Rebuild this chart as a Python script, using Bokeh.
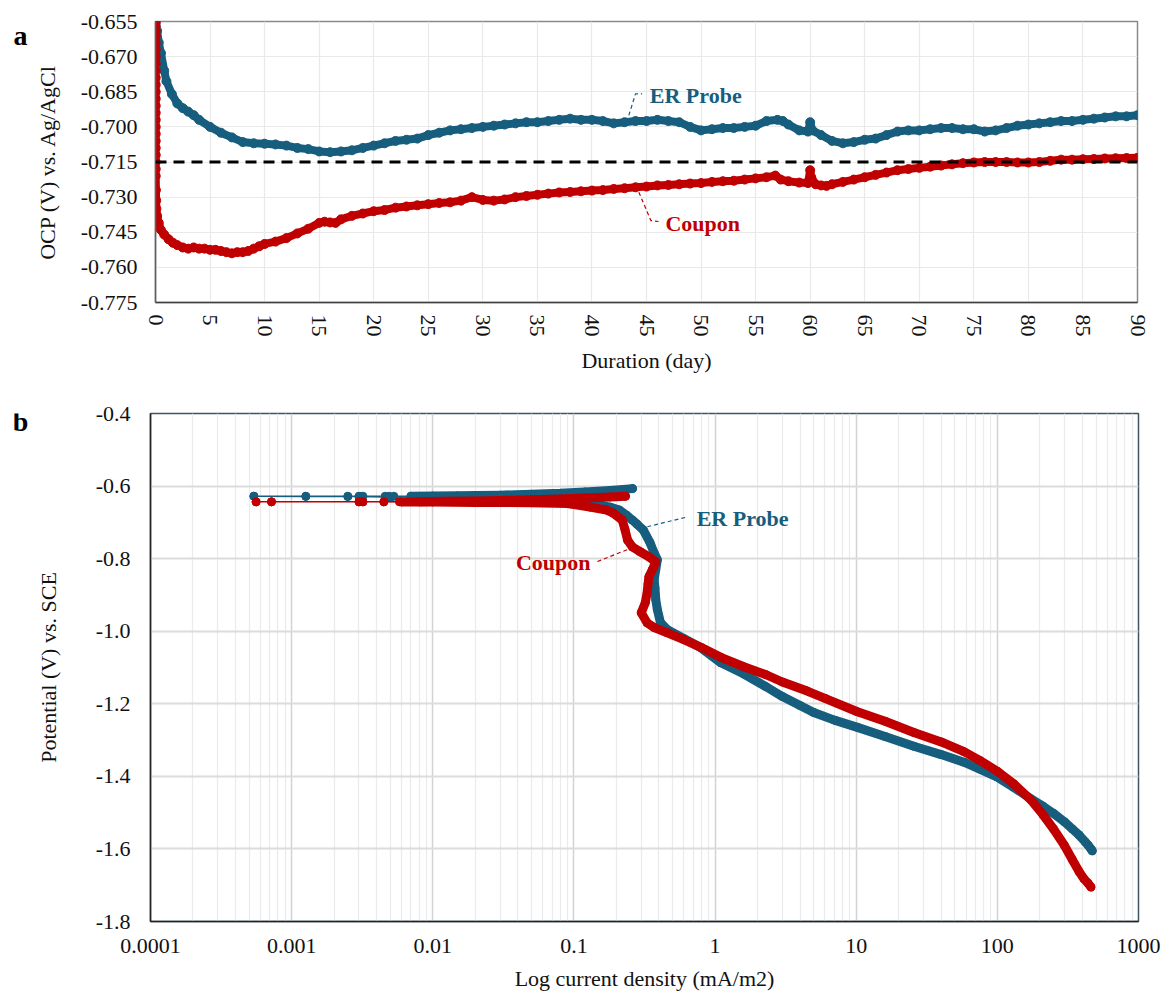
from bokeh.plotting import figure
from bokeh.models import Range1d, FixedTicker, NumeralTickFormatter, Span, Label
from bokeh.layouts import column, row
from bokeh.embed import file_html
from bokeh.resources import INLINE
from bokeh.core.properties import value

BLUE = "#165d7e"
RED = "#c00000"
FONT = "Liberation Serif"

# ---------------- panel a : OCP vs duration ----------------
er_day = [0.02, 0.15, 0.3, 0.5, 0.8, 1.0, 1.5, 2.0, 2.5, 3.0, 3.5, 4.0, 5.0, 6.0, 7.0, 8.0, 9.0, 10.0,
          11, 12, 13, 14, 15, 16, 17, 18, 19, 20, 21, 22, 23, 24, 25, 26, 27, 28, 29, 30, 31, 32, 33,
          34, 35, 36, 37, 38, 39, 40, 41, 42, 43, 44, 45, 46, 47, 48, 49, 50, 51, 52, 53, 54, 55, 56,
          57, 57.5, 58, 59, 59.8, 60.0, 60.2, 61, 62, 63, 64, 65, 66, 67, 68, 69, 70, 71, 72, 73, 74,
          75, 76, 77, 78, 79, 80, 81, 82, 83, 84, 85, 86, 87, 88, 89, 90]
er_ocp = [-0.6555, -0.659, -0.664, -0.6685, -0.676, -0.6805, -0.686, -0.690, -0.692, -0.6935, -0.695,
          -0.697, -0.700, -0.7025, -0.7045, -0.7065, -0.707, -0.7072, -0.7075, -0.708, -0.709, -0.7095,
          -0.7105, -0.7108, -0.7105, -0.710, -0.709, -0.708, -0.707, -0.706, -0.7055, -0.705, -0.7035,
          -0.7025, -0.7015, -0.701, -0.7005, -0.700, -0.6995, -0.699, -0.6985, -0.698, -0.698, -0.6975,
          -0.697, -0.6965, -0.697, -0.697, -0.6975, -0.6985, -0.698, -0.6975, -0.6975, -0.697, -0.6975,
          -0.698, -0.700, -0.7015, -0.701, -0.7005, -0.7005, -0.700, -0.6995, -0.6975, -0.697, -0.6975,
          -0.699, -0.7015, -0.702, -0.698, -0.7015, -0.7035, -0.706, -0.707, -0.7065, -0.7055, -0.705,
          -0.7035, -0.702, -0.7015, -0.7015, -0.701, -0.7005, -0.7005, -0.701, -0.701, -0.702, -0.7015,
          -0.7005, -0.6995, -0.699, -0.6985, -0.698, -0.6975, -0.6975, -0.697, -0.6965, -0.696, -0.6955,
          -0.6955, -0.695]

cp_day = [0.02, 0.02, 0.02, 0.02, 0.02, 0.02, 0.02, 0.02, 0.02, 0.02, 0.02, 0.02, 0.02, 0.02, 0.02,
          0.02, 0.02, 0.02, 0.02, 0.02, 0.02, 0.02, 0.02, 0.02, 0.04, 0.06, 0.08,
          0.15, 0.3, 0.5, 0.8, 1.2, 1.6, 2.0, 2.5, 3.0, 3.5, 4.0, 4.5, 5.0, 5.5, 6.0, 6.5, 7.0, 7.5,
          8.0, 8.5, 9.0, 9.5, 10, 11, 12, 13, 14, 15, 15.5, 16, 16.5, 17, 18, 19, 20, 21, 22, 23, 24,
          25, 26, 27, 28, 29, 30, 31, 32, 33, 34, 35, 36, 37, 38, 39, 40, 41, 42, 43, 44, 45, 46, 47,
          48, 49, 50, 51, 52, 53, 54, 55, 56, 56.8, 57.3, 58, 59, 59.8, 60.0, 60.1, 60.5, 61, 61.5, 62,
          63, 64, 65, 66, 67, 68, 69, 70, 71, 72, 73, 74, 75, 76, 77, 78, 79, 80, 81, 82, 83, 84, 85,
          86, 87, 88, 89, 90]
cp_ocp = [-0.655, -0.657, -0.659, -0.661, -0.664, -0.667, -0.670, -0.673, -0.676, -0.679, -0.682,
          -0.685, -0.688, -0.691, -0.694, -0.697, -0.700, -0.703, -0.706, -0.709, -0.712, -0.715,
          -0.718, -0.721, -0.727, -0.7314, -0.735,
          -0.738, -0.741, -0.744, -0.746, -0.748, -0.7495, -0.7505, -0.7515, -0.752, -0.7515, -0.752,
          -0.752, -0.7525, -0.7525, -0.753, -0.7535, -0.754, -0.7535, -0.7535, -0.753, -0.752, -0.751,
          -0.750, -0.749, -0.7475, -0.7455, -0.7435, -0.741, -0.7405, -0.7408, -0.741, -0.7395, -0.738,
          -0.737, -0.736, -0.7355, -0.7345, -0.734, -0.7335, -0.733, -0.7325, -0.7322, -0.7315, -0.730,
          -0.7312, -0.7315, -0.731, -0.730, -0.7295, -0.729, -0.7285, -0.728, -0.7278, -0.7275, -0.7272,
          -0.727, -0.7265, -0.7262, -0.7258, -0.7255, -0.725, -0.7248, -0.7245, -0.7242, -0.724,
          -0.7235, -0.7232, -0.723, -0.7225, -0.722, -0.7215, -0.7208, -0.7225, -0.7232, -0.7238,
          -0.724, -0.7185, -0.7215, -0.7245, -0.725, -0.7252, -0.7245, -0.7235, -0.7225, -0.7215,
          -0.7205, -0.7195, -0.7185, -0.718, -0.7175, -0.717, -0.7165, -0.716, -0.7155, -0.7152,
          -0.715, -0.715, -0.715, -0.7152, -0.7152, -0.715, -0.7145, -0.714, -0.714, -0.7138, -0.7137,
          -0.7135, -0.7134, -0.7133, -0.7132]

ref_ocp = -0.715
a_xticks = [0, 5, 10, 15, 20, 25, 30, 35, 40, 45, 50, 55, 60, 65, 70, 75, 80, 85, 90]
a_yticks = [-0.775, -0.760, -0.745, -0.730, -0.715, -0.700, -0.685, -0.670, -0.655]

# annotation anchors (data coordinates)
a_er_leader_x = [43.38, 43.99, 44.6]
a_er_leader_y = [-0.6951, -0.6859, -0.6859]
a_er_text = (45.3, -0.6866)
a_cp_leader_x = [44.3, 45.4, 46.1]
a_cp_leader_y = [-0.7279, -0.7400, -0.7404]
a_cp_text = (46.74, -0.7411)

# ---------------- panel b : polarisation curves ----------------
er_cat_i = [470, 460, 440, 418, 380, 340, 298, 250, 210, 173, 130, 100, 75, 58, 40, 25.6, 16, 10.2,
            7, 5, 4, 3, 2.3, 1.6, 1.1, 0.79, 0.6, 0.46, 0.41, 0.39, 0.38, 0.375, 0.37, 0.38, 0.39,
            0.37, 0.345, 0.31, 0.28, 0.26, 0.235, 0.21, 0.18, 0.155, 0.12, 0.09, 0.06, 0.04, 0.03,
            0.02, 0.015, 0.01, 0.007, 0.005, 0.0046, 0.003, 0.0025, 0.00126, 0.00054]
er_cat_v = [-1.605, -1.600, -1.590, -1.580, -1.562, -1.545, -1.525, -1.502, -1.482, -1.462, -1.430,
            -1.402, -1.380, -1.361, -1.340, -1.317, -1.290, -1.265, -1.245, -1.224, -1.205, -1.180,
            -1.153, -1.118, -1.087, -1.045, -1.020, -0.996, -0.976, -0.940, -0.913, -0.880, -0.858,
            -0.830, -0.803, -0.784, -0.755, -0.721, -0.705, -0.694, -0.680, -0.666, -0.658, -0.6525,
            -0.648, -0.645, -0.642, -0.639, -0.638, -0.636, -0.635, -0.634, -0.633, -0.632, -0.630,
            -0.629, -0.629, -0.6285, -0.628]
er_ano_i = [0.00054, 0.00126, 0.0025, 0.003, 0.0032, 0.0046, 0.0049, 0.0053, 0.007, 0.01, 0.015,
            0.02, 0.03, 0.05, 0.08, 0.12, 0.18, 0.26]
er_ano_v = [-0.628, -0.628, -0.628, -0.628, -0.628, -0.628, -0.628, -0.628, -0.628, -0.6275, -0.627,
            -0.626, -0.625, -0.6225, -0.620, -0.616, -0.612, -0.607]

cp_cat_i = [460, 440, 410, 380, 340, 298, 250, 210, 173, 130, 100, 75, 58, 40, 25.6, 16, 10.2, 6,
            4.5, 3, 2.3, 1.6, 1.1, 0.8, 0.6, 0.45, 0.37, 0.33, 0.30, 0.32, 0.33, 0.335, 0.34, 0.36,
            0.38, 0.34, 0.295, 0.26, 0.24, 0.23, 0.22, 0.19, 0.17, 0.13, 0.09, 0.05, 0.02, 0.01,
            0.006, 0.0045, 0.0032, 0.003, 0.00072, 0.00056]
cp_cat_v = [-1.705, -1.695, -1.682, -1.663, -1.630, -1.590, -1.545, -1.505, -1.465, -1.420, -1.386,
            -1.356, -1.332, -1.305, -1.279, -1.248, -1.222, -1.185, -1.165, -1.140, -1.120, -1.098,
            -1.072, -1.045, -1.023, -1.003, -0.990, -0.977, -0.949, -0.922, -0.894, -0.870, -0.850,
            -0.830, -0.809, -0.795, -0.781, -0.768, -0.749, -0.720, -0.694, -0.675, -0.666, -0.658,
            -0.648, -0.646, -0.645, -0.644, -0.6437, -0.6435, -0.6435, -0.6435, -0.6435, -0.6435]
cp_ano_i = [0.00056, 0.00072, 0.003, 0.0032, 0.0045, 0.0058, 0.008, 0.012, 0.02, 0.03, 0.05, 0.08,
            0.12, 0.18, 0.232]
cp_ano_v = [-0.6435, -0.6435, -0.6435, -0.6435, -0.6435, -0.6435, -0.643, -0.642, -0.641, -0.640,
            -0.6375, -0.6355, -0.633, -0.630, -0.628]

b_xticks = [0.0001, 0.001, 0.01, 0.1, 1, 10, 100, 1000]
b_xlabels = ["0.0001", "0.001", "0.01", "0.1", "1", "10", "100", "1000"]
b_yticks = [-1.8, -1.6, -1.4, -1.2, -1.0, -0.8, -0.6, -0.4]
b_minor = [m * d for d in b_xticks[:-1] for m in (2, 3, 4, 5, 6, 7, 8, 9)]

b_er_leader_x = [0.331, 0.637]
b_er_leader_y = [-0.712, -0.685]
b_er_text = (0.741, -0.689)
b_cp_leader_x = [0.1466, 0.2524]
b_cp_leader_y = [-0.808, -0.7715]
b_cp_text = (0.131, -0.810)

panel_letters = ["a", "b"]

LEFT_STRIP = 30
TOP_H = 390
BOT_H = 603


def style_axis(ax, label, label_standoff, tick_standoff, line_color):
    ax.axis_label = label
    ax.axis_label_text_font = FONT
    ax.axis_label_text_font_size = "22px"
    ax.axis_label_text_font_style = "normal"
    ax.axis_label_text_color = "#111111"
    ax.axis_label_standoff = label_standoff
    ax.major_label_text_font = FONT
    ax.major_label_text_font_size = "22px"
    ax.major_label_text_color = "#111111"
    ax.major_label_standoff = tick_standoff
    ax.major_tick_out = 0
    ax.major_tick_in = 0
    ax.minor_tick_out = 0
    ax.minor_tick_in = 0
    ax.axis_line_color = line_color
    ax.axis_line_width = 1.5


def letter_strip(letter, height, baseline_from_top):
    s = figure(width=LEFT_STRIP, height=height, x_range=Range1d(0, LEFT_STRIP),
               y_range=Range1d(0, height), output_backend="svg", toolbar_location=None,
               x_axis_location=None, y_axis_location=None,
               min_border_left=0, min_border_right=0, min_border_top=0, min_border_bottom=0)
    s.outline_line_color = None
    s.xgrid.visible = False
    s.ygrid.visible = False
    s.text(x=[20], y=[height - baseline_from_top], text=[letter], text_font=value(FONT),
           text_font_size="28px", text_font_style="bold", text_color="black",
           text_align="center", text_baseline="alphabetic")
    return s


# ---- figure a
p1 = figure(width=1164 - LEFT_STRIP, height=TOP_H, x_range=Range1d(0, 90),
            y_range=Range1d(-0.775, -0.655), output_backend="svg", toolbar_location=None,
            min_border_left=155 - LEFT_STRIP, min_border_right=27, min_border_top=21,
            min_border_bottom=88)
p1.outline_line_color = "#8a8a8a"
p1.outline_line_width = 1.5

xt1 = FixedTicker(ticks=a_xticks)
yt1 = FixedTicker(ticks=a_yticks)
p1.xaxis.ticker = xt1
p1.yaxis.ticker = yt1
p1.xgrid.ticker = xt1
p1.ygrid.ticker = yt1
p1.xgrid.grid_line_color = "#e9e9e9"
p1.ygrid.grid_line_color = "#e9e9e9"
p1.xgrid.grid_line_width = 1.2
p1.ygrid.grid_line_width = 1.2
p1.yaxis.formatter = NumeralTickFormatter(format="0.000")
style_axis(p1.xaxis[0], "Duration (day)", 8, 12, "#404040")
style_axis(p1.yaxis[0], "OCP (V) vs. Ag/AgCl", 18, 18, "#606060")
p1.xaxis.major_label_orientation = "vertical"

p1.line(er_day, er_ocp, line_width=8, color=BLUE, line_join="round", line_cap="round")
p1.scatter(er_day, er_ocp, size=9, color=BLUE)
p1.line(cp_day, cp_ocp, line_width=8, color=RED, line_join="round", line_cap="round")
p1.scatter(cp_day, cp_ocp, size=9, color=RED)
p1.add_layout(Span(location=ref_ocp, dimension="width", line_color="black", line_width=3,
                   line_dash="11 7"))

p1.line(a_er_leader_x, a_er_leader_y, line_dash="4 3", line_width=1.2, color=BLUE)
p1.line(a_cp_leader_x, a_cp_leader_y, line_dash="4 3", line_width=1.2, color=RED)
p1.add_layout(Label(x=a_er_text[0], y=a_er_text[1], text="ER Probe", text_font=FONT,
                    text_font_size="22px", text_font_style="bold", text_color=BLUE,
                    text_baseline="middle", text_align="left"))
p1.add_layout(Label(x=a_cp_text[0], y=a_cp_text[1], text="Coupon", text_font=FONT,
                    text_font_size="22px", text_font_style="bold", text_color=RED,
                    text_baseline="middle", text_align="left"))

# ---- figure b
p2 = figure(width=1164 - LEFT_STRIP, height=BOT_H, x_axis_type="log",
            x_range=Range1d(0.0001, 1000), y_range=Range1d(-1.8, -0.4), output_backend="svg",
            toolbar_location=None, min_border_left=150 - LEFT_STRIP, min_border_right=26,
            min_border_top=23, min_border_bottom=70)
p2.outline_line_color = "#3c5561"
p2.outline_line_width = 1.5
xt2 = FixedTicker(ticks=b_xticks, minor_ticks=b_minor)
yt2 = FixedTicker(ticks=b_yticks)
p2.xaxis.ticker = xt2
p2.yaxis.ticker = yt2
p2.xgrid.ticker = xt2
p2.ygrid.ticker = yt2
p2.xaxis.major_label_overrides = {t: s for t, s in zip(b_xticks, b_xlabels)}
p2.yaxis.formatter = NumeralTickFormatter(format="0.0")
p2.xgrid.grid_line_color = "#d2d2d2"
p2.xgrid.grid_line_width = 1.5
p2.xgrid.minor_grid_line_color = "#ebebeb"
p2.xgrid.minor_grid_line_width = 1.2
p2.ygrid.grid_line_color = "#dcdcdc"
p2.ygrid.grid_line_width = 2
style_axis(p2.xaxis[0], "Log current density (mA/m2)", 10, 17, "#222222")
style_axis(p2.yaxis[0], "Potential (V) vs. SCE", 32, 20, "#222222")

for cat_i, cat_v, ano_i, ano_v, col in ((er_cat_i, er_cat_v, er_ano_i, er_ano_v, BLUE),
                                          (cp_cat_i, cp_cat_v, cp_ano_i, cp_ano_v, RED)):
    all_i = cat_i + ano_i
    all_v = cat_v + ano_v
    p2.line(all_i, all_v, line_width=1.5, color=col)
    for bi, bv in ((cat_i, cat_v), (ano_i, ano_v)):
        di = [a for a in bi if a >= 0.006]
        dv = [b for a, b in zip(bi, bv) if a >= 0.006]
        p2.line(di, dv, line_width=9, color=col, line_join="round", line_cap="round")
    p2.scatter(all_i, all_v, size=8, color=col)

p2.line(b_er_leader_x, b_er_leader_y, line_dash="4 3", line_width=1.2, color=BLUE)
p2.line(b_cp_leader_x, b_cp_leader_y, line_dash="4 3", line_width=1.2, color=RED)
p2.add_layout(Label(x=b_er_text[0], y=b_er_text[1], text="ER Probe", text_font=FONT,
                    text_font_size="22px", text_font_style="bold", text_color=BLUE,
                    text_baseline="middle", text_align="left"))
p2.add_layout(Label(x=b_cp_text[0], y=b_cp_text[1], text="Coupon", text_font=FONT,
                    text_font_size="22px", text_font_style="bold", text_color=RED,
                    text_baseline="middle", text_align="right"))

sa = letter_strip(panel_letters[0], TOP_H, 20)
sb = letter_strip(panel_letters[1], BOT_H, 9)

layout = column(row(sa, p1, spacing=0), row(sb, p2, spacing=0), spacing=0)
open("out.html", "w").write(file_html(layout, INLINE))
